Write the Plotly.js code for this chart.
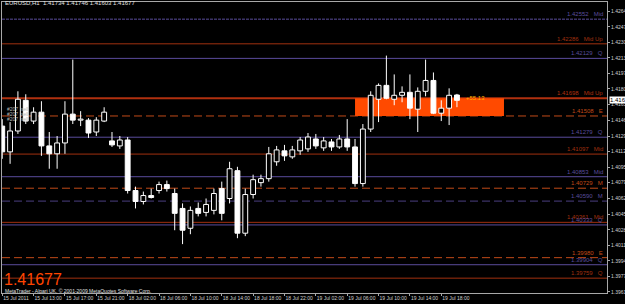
<!DOCTYPE html>
<html><head><meta charset="utf-8">
<script src="https://cdn.plot.ly/plotly-3.0.1.min.js"></script>
<style>html,body{margin:0;padding:0;background:#000;overflow:hidden}#chart{width:625px;height:304px}</style>
</head><body><div id="chart"></div>
<script>
// ---- data ----
const symbolTitle = 'EURUSD,H1  1.41734 1.41746 1.41603 1.41677';
const tickBars = [0,4,8,12,16,20,24,28,32,36,40,44,48,52,56];
const tickLabels = ['15 Jul 2011','15 Jul 13:00','15 Jul 17:00','15 Jul 21:00','18 Jul 02:00','18 Jul 06:00','18 Jul 10:00','18 Jul 14:00','18 Jul 18:00','18 Jul 22:00','19 Jul 02:00','19 Jul 06:00','19 Jul 10:00','19 Jul 14:00','19 Jul 18:00'];
const priceTicks = [1.42640,1.42470,1.42305,1.42135,1.41970,1.41800,1.41630,1.41460,1.41290,1.41125,1.40955,1.40790,1.40620,1.40450,1.40280,1.40115,1.39945,1.39775,1.39610];

const openP  = [1.41399,1.41121,1.41346,1.41677,1.41453,1.41549,1.41185,1.41100,1.41217,1.41528,1.41463,1.41463,1.41335,1.41453,1.41239,1.41185,1.41249,1.40704,1.40586,1.40650,1.40704,1.40768,1.40672,1.40511,1.40297,1.40511,1.40468,1.40490,1.40725,1.40618,1.40918,1.40244,1.40661,1.40789,1.40832,1.41014,1.41132,1.41067,1.41132,1.41153,1.41260,1.41164,1.41228,1.41174,1.41260,1.41174,1.40779,1.41367,1.41688,1.41838,1.41688,1.41731,1.41763,1.41581,1.41774,1.41891,1.41538,1.41592,1.41734];
const highP  = [1.41474,1.41442,1.41774,1.41742,1.41602,1.41667,1.41335,1.41292,1.41667,1.42116,1.41560,1.41485,1.41495,1.41602,1.41335,1.41292,1.41281,1.40746,1.40693,1.40725,1.40800,1.40811,1.40725,1.40565,1.40532,1.40575,1.40618,1.40725,1.40800,1.41014,1.40960,1.40725,1.40875,1.40875,1.41174,1.41185,1.41196,1.41185,1.41281,1.41324,1.41314,1.41281,1.41260,1.41303,1.41474,1.41260,1.41421,1.41774,1.41859,1.42159,1.41956,1.41827,1.41956,1.41816,1.42116,1.41977,1.41677,1.41806,1.41746];
const lowP   = [1.41046,1.40992,1.41314,1.41421,1.41421,1.41078,1.40939,1.40939,1.41100,1.41421,1.41399,1.41271,1.41292,1.41442,1.41174,1.41153,1.40672,1.40511,1.40554,1.40618,1.40672,1.40693,1.40276,1.40126,1.40233,1.40425,1.40425,1.40447,1.40383,1.40565,1.40190,1.40212,1.40618,1.40746,1.40800,1.40971,1.41024,1.41046,1.41089,1.41121,1.41153,1.41132,1.41132,1.41153,1.41132,1.40746,1.40746,1.41335,1.41442,1.41688,1.41624,1.41656,1.41474,1.41335,1.41720,1.41528,1.41453,1.41410,1.41603];
const closeP = [1.41121,1.41346,1.41688,1.41453,1.41549,1.41185,1.41100,1.41217,1.41528,1.41463,1.41474,1.41324,1.41463,1.41549,1.41196,1.41249,1.40704,1.40586,1.40650,1.40629,1.40768,1.40725,1.40458,1.40276,1.40490,1.40458,1.40554,1.40672,1.40458,1.40939,1.40244,1.40661,1.40821,1.40832,1.41100,1.41142,1.41078,1.41142,1.41249,1.41281,1.41185,1.41239,1.41174,1.41260,1.41174,1.40779,1.41367,1.41731,1.41838,1.41699,1.41731,1.41763,1.41592,1.41774,1.41891,1.41538,1.41592,1.41731,1.41677];

const levelPrices = [1.42552,1.42286,1.42129,1.41698,1.41508,1.41279,1.41097,1.40853,1.40729,1.40590,1.40361,1.40333,1.39980,1.39904,1.39759];
const levelNames  = ['Mid','Mid Up','Q','Mid Up','E','Q','Mid','Mid','M','M','Mid','Q','E','Q','Q'];
const levelKinds  = ['purpleDot','red','purple','redThick','orangeDash','purple','red','purple','orangeDash','purpleDash','red','purple','orangeDash','purple','red'];

const tradeLabels = ['#207  sell','#207  sell','#207  sell'];
const tradePrices = [1.41581,1.41528,1.41474];

const zoneStartBar = 45, zoneEndBar = 64;
const zoneTop = 1.41698, zoneBottom = 1.41508;
const zoneText = '+55.13';
const lastPrice = 1.41677;
const copyright = 'MetaTrader - Alpari UK, © 2001-2009 MetaQuotes Software Corp.';

// ---- styles ----
const kindStyle = {
  purpleDot:{color:'#5a4c9c',width:1,dash:'3px,1px'},
  purple:{color:'#5a4c9c',width:1,dash:'solid'},
  purpleDash:{color:'#4a3f80',width:1,dash:'8px,4px'},
  red:{color:'#a0300f',width:1,dash:'solid'},
  redThick:{color:'#b0300f',width:2,dash:'solid'},
  orangeDash:{color:'#c04a18',width:1,dash:'8px,4px'}
};
const FONT = 'Liberation Sans, Arial, sans-serif';

const bullX=[],bullB=[],bullH=[],bearX=[],bearB=[],bearH=[],wx=[],wy=[];
for(let i=0;i<openP.length;i++){
  const o=openP[i],c=closeP[i],h=highP[i],l=lowP[i];
  const top=Math.max(o,c), bot=Math.min(o,c);
  const ht=Math.max(top-bot,0.000012);
  if(c>=o){bullX.push(i);bullB.push(bot);bullH.push(ht);} else {bearX.push(i);bearB.push(bot);bearH.push(ht);}
  if(h>top){wx.push(i,i,null);wy.push(top,h,null);}
  if(l<bot){wx.push(i,i,null);wy.push(l,bot,null);}
}

const traces = [
  {type:'bar',x:bullX,y:bullH,base:bullB,width:0.62,marker:{color:'#000',line:{color:'#fff',width:1}},hoverinfo:'skip'},
  {type:'bar',x:bearX,y:bearH,base:bearB,width:0.62,marker:{color:'#fff',line:{color:'#fff',width:1}},hoverinfo:'skip'},
  {type:'scatter',mode:'lines',x:wx,y:wy,line:{color:'#fff',width:1},hoverinfo:'skip',connectgaps:false}
];

const shapes = levelPrices.map((p,i)=>{const s=kindStyle[levelKinds[i]];return {type:'line',xref:'paper',x0:0,x1:1,yref:'y',y0:p,y1:p,layer:'below',line:{color:s.color,width:s.width,dash:s.dash}};});
shapes.push({type:'rect',xref:'x',yref:'y',x0:zoneStartBar,x1:zoneEndBar,y0:zoneBottom,y1:zoneTop,fillcolor:'#ff4a00',line:{width:0},layer:'below'});

const annotations = levelPrices.map((p,i)=>({xref:'paper',yref:'y',x:0.997,y:p,xanchor:'right',yanchor:'bottom',showarrow:false,
  text:p.toFixed(5)+'   '+levelNames[i],font:{family:FONT,size:6,color:kindStyle[levelKinds[i]].color.replace('#4a3f80','#5a4c9c')}}));
tradeLabels.forEach((t,i)=>annotations.push({xref:'paper',yref:'y',x:0.005,y:tradePrices[i],xanchor:'left',yanchor:'middle',showarrow:false,text:t,font:{family:FONT,size:5,color:'#b8b8b8'}}));
annotations.push({xref:'paper',yref:'paper',x:0.002,y:0.995,xanchor:'left',yanchor:'middle',showarrow:false,text:symbolTitle,font:{family:FONT,size:6,color:'#e0e0e0'}});
annotations.push({xref:'paper',yref:'paper',x:0.002,y:0.008,xanchor:'left',yanchor:'middle',showarrow:false,text:copyright,font:{family:FONT,size:5,color:'#e0e0e0'}});
annotations.push({xref:'paper',yref:'paper',x:0.0,y:0.012,xanchor:'left',yanchor:'bottom',showarrow:false,text:lastPrice.toFixed(5),font:{family:FONT,size:16,color:'#ff4500'}});
annotations.push({xref:'paper',yref:'y',x:1.003,y:lastPrice,xanchor:'left',yanchor:'middle',showarrow:false,text:lastPrice.toFixed(5),bgcolor:'#ffffff',borderpad:0,font:{family:FONT,size:6,color:'#000'}});
annotations.push({xref:'x',yref:'y',x:openP.length-0.1,y:zoneTop,xanchor:'left',yanchor:'middle',showarrow:false,text:zoneText,font:{family:FONT,size:6,color:'#ffb000'}});

const axisCol='#a8a8a8';
const layout = {
  width:625,height:304,margin:{l:2,r:18,t:2,b:11,pad:0},
  paper_bgcolor:'#000',plot_bgcolor:'#000',showlegend:false,barmode:'overlay',
  xaxis:{range:[-0.03,77.14],tickmode:'array',tickvals:tickBars,ticktext:tickLabels,ticks:'outside',ticklen:2,tickcolor:axisCol,tickangle:0,
    ticklabelposition:'outside right',tickfont:{family:FONT,size:5,color:'#d0d0d0'},showgrid:false,zeroline:false,showline:true,linecolor:axisCol,linewidth:1,mirror:true,fixedrange:true},
  yaxis:{side:'right',range:[1.39599,1.42737],tickmode:'array',tickvals:priceTicks,ticktext:priceTicks.map(v=>v.toFixed(5)),ticks:'outside',ticklen:2,tickcolor:axisCol,
    tickfont:{family:FONT,size:5,color:'#d0d0d0'},showgrid:false,zeroline:false,showline:true,linecolor:axisCol,linewidth:1,mirror:true,fixedrange:true},
  shapes:shapes,annotations:annotations
};
Plotly.newPlot('chart',traces,layout,{staticPlot:true,displayModeBar:false});
</script></body></html>
